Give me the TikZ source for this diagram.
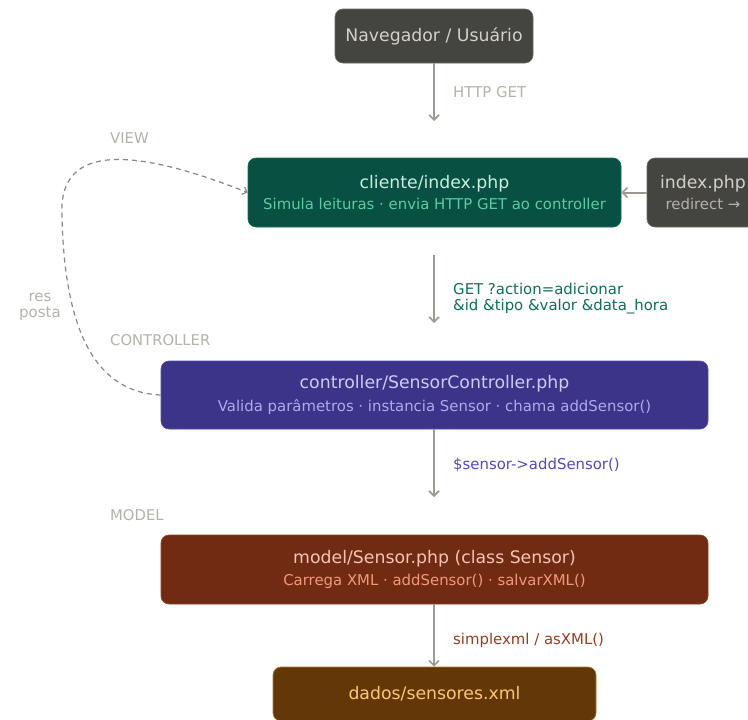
\documentclass[tikz,border=0pt]{standalone}
\usepackage{fontspec}
\setmainfont{DejaVu Sans}
\usetikzlibrary{arrows.meta}
\definecolor{grayfill}{HTML}{444441}
\definecolor{grayline}{HTML}{6A6963}
\definecolor{graytxt}{HTML}{D3D1C7}
\definecolor{graysub}{HTML}{B4B2A9}
\definecolor{tealfill}{HTML}{085041}
\definecolor{tealline}{HTML}{0F6E56}
\definecolor{tealtxt}{HTML}{C8EFE0}
\definecolor{tealsub}{HTML}{5DCAA5}
\definecolor{purpfill}{HTML}{3C3489}
\definecolor{purpline}{HTML}{534AB7}
\definecolor{purptxt}{HTML}{CECBF6}
\definecolor{purpsub}{HTML}{AFA9EC}
\definecolor{redfill}{HTML}{712B13}
\definecolor{redline}{HTML}{993C1D}
\definecolor{redtxt}{HTML}{F5C4B3}
\definecolor{redsub}{HTML}{F0997B}
\definecolor{ambfill}{HTML}{633806}
\definecolor{ambline}{HTML}{BA7517}
\definecolor{ambtxt}{HTML}{FAC775}
\definecolor{arrowgray}{HTML}{9C9A92}
\definecolor{dashgray}{HTML}{888780}
\definecolor{lbltxt}{HTML}{B4B2A9}
\begin{document}
\begin{tikzpicture}[x=1pt,y=-1pt,
  box/.style={rounded corners=8pt, line width=0.6pt, align=center, inner sep=0pt},
  ttl/.style={font=\fontsize{17.3}{21}\selectfont},
  flow/.style={draw=arrowgray, line width=2pt, -{Straight Barb[length=5pt,width=10pt,line width=1.6pt]}},
  sect/.style={font=\fontsize{14.8}{17}\selectfont, text=lbltxt, anchor=west, inner sep=0pt},
  elbl/.style={font=\fontsize{14.9}{16}\selectfont, anchor=west, inner sep=0pt, align=left}
]
\useasboundingbox (0,0) rectangle (748,720);
\fill[white] (0,0) rectangle (748,720);

\node[box, fill=grayfill, draw=grayline, minimum width=198pt, minimum height=54pt, text=graytxt, ttl] (nav) at (434,36) {Navegador / Usuário};

\node[box, fill=tealfill, draw=tealline, minimum width=373pt, minimum height=69pt] (cli) at (434.5,192.5)
  {{\fontsize{17.3}{21}\selectfont\color{tealtxt}cliente/index.php}\\[6pt]{\fontsize{14.9}{17}\selectfont\color{tealsub}Simula leituras · envia HTTP GET ao controller}};

\node[box, fill=grayfill, draw=grayline, minimum width=112pt, minimum height=69pt] (idx) at (703,192.5)
  {{\fontsize{17.3}{21}\selectfont\color{graytxt}index.php}\\[6pt]{\fontsize{14.9}{17}\selectfont\color{graysub}redirect →}};

\node[box, fill=purpfill, draw=purpline, minimum width=547pt, minimum height=68pt] (ctl) at (434.5,395)
  {{\fontsize{17.3}{21}\selectfont\color{purptxt}controller/SensorController.php}\\[6pt]{\fontsize{14.9}{17}\selectfont\color{purpsub}Valida parâmetros · instancia Sensor · chama addSensor()}};

\node[box, fill=redfill, draw=redline, minimum width=547pt, minimum height=69pt] (mdl) at (434.5,569.5)
  {{\fontsize{17.3}{21}\selectfont\color{redtxt}model/Sensor.php (class Sensor)}\\[6pt]{\fontsize{14.9}{17}\selectfont\color{redsub}Carrega XML · addSensor() · salvarXML()}};

\node[box, fill=ambfill, draw=ambline, minimum width=323pt, minimum height=54pt, text=ambtxt, ttl] (xml) at (434.5,694) {dados/sensores.xml};

% section labels
\node[sect] (sview) at (110,138) {VIEW};
\node[sect] (sctl) at (110,340) {CONTROLLER};
\node[sect] (smdl) at (110,515) {MODEL};

% vertical flows
\coordinate (a1e) at (434,121);
\coordinate (a2s) at (434,255); \coordinate (a2e) at (434,323);
\coordinate (a3s) at (434,430); \coordinate (a3e) at (434,497);
\coordinate (a4s) at (434,605);
\draw[flow] (nav.south) -- (a1e);
\draw[flow] (a2s) -- (a2e);
\draw[flow] (ctl.south -| a3s) -- (a3e);
\draw[flow] (mdl.south -| a4s) -- (xml.north -| a4s);
\draw[flow] (idx.west) -- (cli.east);

\node[elbl, text=lbltxt] (l1) at (453,92) {HTTP GET};
\node[elbl, text=tealline] (l2) at (453,299) {GET ?action=adicionar\\\&id \&tipo \&valor \&data\_hora};
\node[elbl, text=purpline] (l3) at (453,465) {\$sensor->addSensor()};
\node[elbl, text=redline] (l4) at (453,640) {simplexml / asXML()};

% dashed response loop
\coordinate (loop) at (62,215);
\draw[draw=dashgray, line width=1.2pt, dash pattern=on 5pt off 4pt, -{Straight Barb[length=4pt,width=8pt,line width=1.2pt]}]
  (ctl.west) .. controls (90,392) and (64,320) .. (loop) .. controls (58,140) and (140,150) .. (cli.west);
\node[font=\fontsize{15}{16.5}\selectfont, text=lbltxt, align=center, inner sep=0pt] (resp) at (40,307) {res\\posta};
\end{tikzpicture}
\end{document}
